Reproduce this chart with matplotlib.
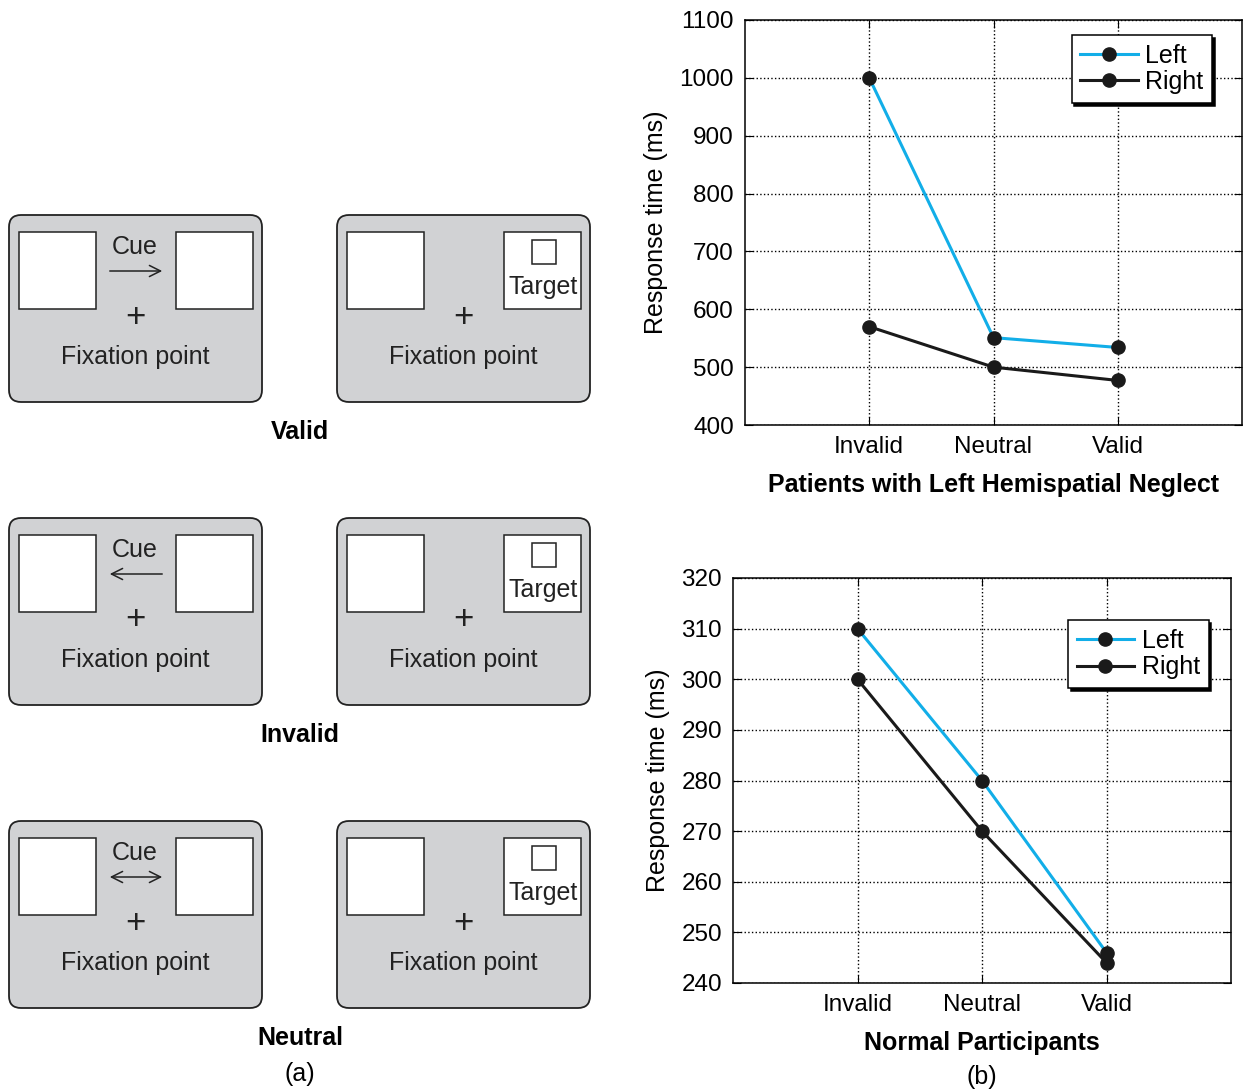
import matplotlib.pyplot as plt
from matplotlib.patches import FancyBboxPatch, Rectangle

plt.rcParams['font.family'] = ['Liberation Sans', 'DejaVu Sans']

# Data
conditions = ['Invalid', 'Neutral', 'Valid']
neglect_left = [1000, 551, 534]
neglect_right = [570, 500, 477]
normal_left = [310, 280, 246]
normal_right = [300, 270, 244]

cue_rows = ['Valid', 'Invalid', 'Neutral']
cue_arrows = ['->', '<-', '<->']

blue = '#12aee8'
gray = '#d1d2d4'
ink = '#222222'

fig = plt.figure(figsize=(12.45, 10.9), dpi=100)

# ---- (a) schematic, drawn in pixel coordinates ----
sk = fig.add_axes([0, 0, 1, 1])
sk.set_xlim(0, 1245)
sk.set_ylim(1090, 0)
sk.axis('off')

def screen(x0, y0, target):
    sk.add_patch(FancyBboxPatch((x0, y0), 253, 187,
                                boxstyle='round,pad=0,rounding_size=12',
                                fc=gray, ec=ink, lw=1.3))
    for dx in (10, 167):
        sk.add_patch(Rectangle((x0 + dx, y0 + 17), 77, 77, fc='white', ec=ink, lw=1.1))
    sk.text(x0 + 126, y0 + 102, '+', fontsize=25, ha='center', va='center', color=ink)
    sk.text(x0 + 126, y0 + 142, 'Fixation point', fontsize=18, ha='center', va='center', color=ink)
    if target:
        sk.add_patch(Rectangle((x0 + 195, y0 + 25), 24, 24, fc='white', ec=ink, lw=1.1))
        sk.text(x0 + 206, y0 + 72, 'Target', fontsize=18, ha='center', va='center', color=ink)

for i, (name, arrow) in enumerate(zip(cue_rows, cue_arrows)):
    y0 = 215 + i * 303
    screen(9, y0, False)
    screen(337, y0, True)
    sk.text(135, y0 + 32, 'Cue', fontsize=18, ha='center', va='center', color=ink)
    sk.annotate('', xy=(165, y0 + 56), xytext=(107, y0 + 56),
                arrowprops=dict(arrowstyle=arrow, lw=1.1, color=ink, mutation_scale=20))
    sk.text(300, y0 + 217, name, fontsize=18, fontweight='bold', ha='center', va='center')

sk.text(300, 1074, '(a)', fontsize=18, ha='center', va='center')
sk.text(982, 1077, '(b)', fontsize=18, ha='center', va='center')

# ---- (b) line charts ----
def panel(rect, left, right, ylim, step, xlabel, legend_anchor):
    ax = fig.add_axes(rect)
    x = range(1, len(conditions) + 1)
    ax.plot(x, left, '-o', color=blue, lw=2.2, ms=9.5, mfc='#1a1a1a', mec='#1a1a1a', label='Left')
    ax.plot(x, right, '-o', color='#1a1a1a', lw=2.2, ms=9.5, label='Right')
    ax.set_xlim(0, 4)
    ax.set_ylim(*ylim)
    ax.set_yticks(range(ylim[0], ylim[1] + 1, step))
    ax.set_xticks(list(x))
    ax.set_xticklabels(conditions)
    ax.grid(True, ls=':', color='black', lw=1)
    ax.tick_params(direction='in', top=True, right=True, length=6, labelsize=17.5, pad=8)
    ax.set_ylabel('Response time (ms)', fontsize=18, labelpad=8)
    ax.set_xlabel(xlabel, fontsize=18, fontweight='bold', labelpad=11)
    for s in ax.spines.values():
        s.set_linewidth(1.1)
    leg = ax.legend(loc='upper right', bbox_to_anchor=legend_anchor, fontsize=18,
                    fancybox=False, edgecolor='black', framealpha=1,
                    shadow={'color': 'black', 'alpha': 1}, handlelength=2.3,
                    handletextpad=0.3, borderpad=0.35, labelspacing=0.1,
                    borderaxespad=0)
    leg.get_frame().set_linewidth(1.1)
    return ax

panel([745 / 1245, 1 - 425 / 1090, 497 / 1245, 405 / 1090],
      neglect_left, neglect_right, (400, 1100), 100,
      'Patients with Left Hemispatial Neglect', (0.94, 0.963))
panel([733 / 1245, 1 - 983 / 1090, 498 / 1245, 405 / 1090],
      normal_left, normal_right, (240, 320), 10,
      'Normal Participants', (0.955, 0.896))

fig.savefig('out.png', dpi=100)
